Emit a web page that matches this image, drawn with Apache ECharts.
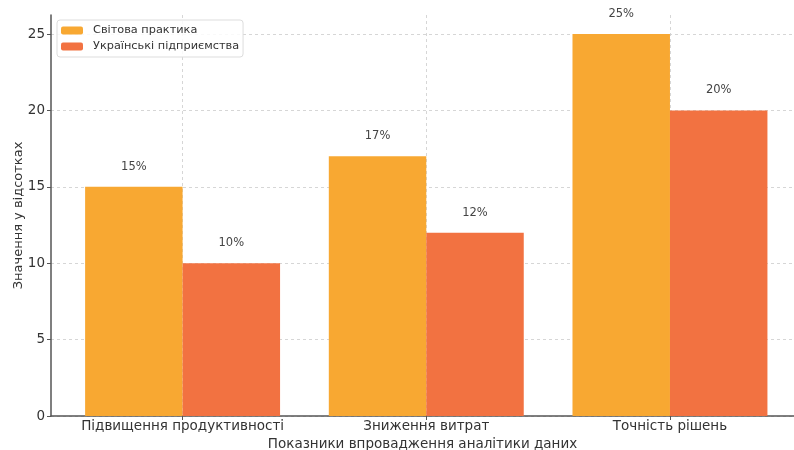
<!DOCTYPE html>
<html>
<head>
<meta charset="utf-8">
<script src="https://cdn.jsdelivr.net/npm/echarts@6/dist/echarts.min.js"></script>
<style>
  html, body { margin: 0; padding: 0; background: #fff; }
  #chart { width: 794px; height: 450px; }
</style>
</head>
<body>
<div id="chart"></div>
<script>
// Indicator groups and values (percent)
const categories = ['Підвищення продуктивності', 'Зниження витрат', 'Точність рішень'];
const worldPractice = [15, 17, 25];
const ukrainianCompanies = [10, 12, 20];
const seriesNames = ['Світова практика', 'Українські підприємства'];
const yTicks = [0, 5, 10, 15, 20, 25];

const FONT = 'DejaVu Sans';
const BAR_OFFSET = 0.2;   // each bar sits 0.2 units either side of its group centre
const BAR_WIDTH = 0.4;    // bar width in axis units

const chart = echarts.init(document.getElementById('chart'), null, { renderer: 'canvas' });

function toPoints(values, shift) {
  return values.map((v, i) => [i + shift, v]);
}

const xMin = -0.54, xMax = 2.509;
const gridLeft = 51, gridRight = 0;
const unitPx = (794 - gridLeft - gridRight) / (xMax - xMin);

function barSeries(name, values, shift, color) {
  return {
    name: name,
    type: 'bar',
    data: toPoints(values, shift),
    barWidth: BAR_WIDTH * unitPx,
    barGap: '-100%',
    itemStyle: { color: color },
    label: {
      show: true,
      position: 'top',
      distance: 14,
      formatter: p => p.value[1] + '%',
      fontFamily: FONT,
      fontSize: 11.5,
      color: '#444'
    }
  };
}

chart.setOption({
  animation: false,
  backgroundColor: '#fff',
  textStyle: { fontFamily: FONT },
  grid: {
    left: gridLeft, right: gridRight, top: 15, bottom: 34,
    containLabel: false, outerBoundsMode: 'none'
  },
  legend: {
    left: 57, top: 20,
    orient: 'vertical',
    itemWidth: 22, itemHeight: 8, itemGap: 5,
    padding: [5, 4, 5, 4],
    borderColor: '#ddd', borderWidth: 1, borderRadius: 3,
    backgroundColor: 'rgba(255,255,255,0.85)',
    textStyle: { fontFamily: FONT, fontSize: 11.3, color: '#333', padding: [0, 0, 0, 5] },
    data: seriesNames
  },
  xAxis: {
    type: 'value',
    min: xMin, max: xMax,
    name: 'Показники впровадження аналітики даних',
    nameLocation: 'middle',
    nameGap: 20,
    nameTextStyle: { fontFamily: FONT, fontSize: 13.5, color: '#333', align: 'center' },
    axisLine: { show: true, onZero: false, lineStyle: { color: '#555', width: 1.5 } },
    axisTick: { show: true, length: 4, lineStyle: { color: '#555' }, customValues: [0, 1, 2] },
    axisLabel: {
      customValues: [0, 1, 2],
      formatter: v => categories[Math.round(v)] || '',
      fontFamily: FONT, fontSize: 13.5, color: '#333', margin: 3
    },
    splitLine: { show: true, lineStyle: { color: '#ccc', type: [3, 3], width: 0.8 } }
  },
  yAxis: {
    type: 'value',
    min: 0, max: 26.25,
    name: 'Значення у відсотках',
    nameLocation: 'middle',
    nameGap: 26,
    nameMoveOverlap: false,
    nameTextStyle: { fontFamily: FONT, fontSize: 13, color: '#333' },
    axisLine: { show: true, onZero: false, lineStyle: { color: '#555', width: 1.5 } },
    axisTick: { show: true, length: 4, lineStyle: { color: '#555' }, customValues: yTicks },
    axisLabel: { customValues: yTicks, fontFamily: FONT, fontSize: 13.5, color: '#333', margin: 6 },
    splitLine: { show: true, lineStyle: { color: '#ccc', type: [3, 3], width: 0.8 } }
  },
  series: [
    barSeries(seriesNames[0], worldPractice, -BAR_OFFSET, '#F8A832'),
    barSeries(seriesNames[1], ukrainianCompanies, BAR_OFFSET, '#F27241')
  ]
});
</script>
</body>
</html>
